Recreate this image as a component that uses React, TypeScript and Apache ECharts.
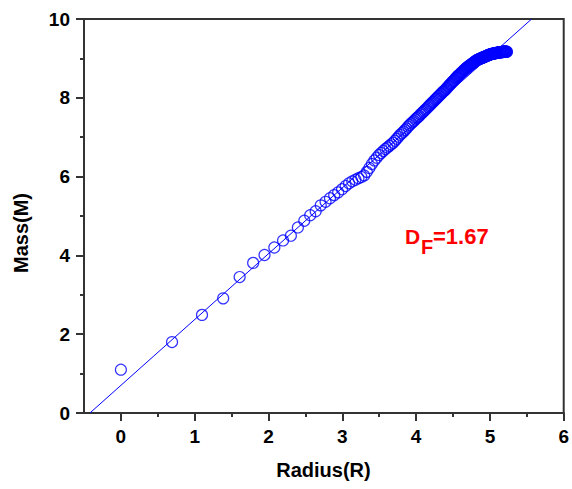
import React, { useEffect, useRef } from "react";
import * as echarts from "echarts";

// ln(radius) values
const radius: number[] = [
  0, 0.693, 1.099, 1.386, 1.609, 1.792, 1.946, 2.079, 2.197, 2.303,
  2.398, 2.485, 2.565, 2.639, 2.708, 2.773, 2.833, 2.890, 2.944, 2.996,
  3.045, 3.091, 3.135, 3.178, 3.219, 3.258, 3.296, 3.332, 3.367, 3.401,
  3.434, 3.466, 3.497, 3.526, 3.555, 3.584, 3.611, 3.638, 3.664, 3.689,
  3.714, 3.738, 3.761, 3.784, 3.807, 3.829, 3.850, 3.871, 3.892, 3.912,
  3.932, 3.951, 3.970, 3.989, 4.007, 4.025, 4.043, 4.060, 4.078, 4.094,
  4.111, 4.127, 4.143, 4.159, 4.174, 4.190, 4.205, 4.220, 4.234, 4.248,
  4.263, 4.277, 4.290, 4.304, 4.317, 4.331, 4.344, 4.357, 4.369, 4.382,
  4.394, 4.407, 4.419, 4.431, 4.443, 4.454, 4.466, 4.477, 4.489, 4.500,
  4.511, 4.522, 4.533, 4.543, 4.554, 4.564, 4.575, 4.585, 4.595, 4.605,
  4.615, 4.625, 4.635, 4.644, 4.654, 4.663, 4.673, 4.682, 4.691, 4.700,
  4.710, 4.718, 4.727, 4.736, 4.745, 4.754, 4.762, 4.771, 4.779, 4.787,
  4.796, 4.804, 4.812, 4.820, 4.828, 4.836, 4.844, 4.852, 4.860, 4.868,
  4.875, 4.883, 4.890, 4.898, 4.905, 4.913, 4.920, 4.927, 4.934, 4.942,
  4.949, 4.956, 4.963, 4.970, 4.977, 4.984, 4.990, 4.997, 5.004, 5.011,
  5.017, 5.024, 5.030, 5.037, 5.043, 5.050, 5.056, 5.063, 5.069, 5.075,
  5.081, 5.088, 5.094, 5.100, 5.106, 5.112, 5.118, 5.124, 5.130, 5.136,
  5.142, 5.147, 5.153, 5.159, 5.165, 5.170, 5.176, 5.182, 5.187, 5.193,
  5.198, 5.204, 5.209, 5.215, 5.220, 5.226, 5.231,
];

// ln(mass) values
const mass: number[] = [
  1.10, 1.80, 2.49, 2.91, 3.45, 3.81, 4.01, 4.20, 4.38, 4.50,
  4.71, 4.88, 5.02, 5.12, 5.27, 5.36, 5.45, 5.53, 5.60, 5.68,
  5.76, 5.83, 5.88, 5.92, 5.96, 5.99, 6.03, 6.12, 6.22, 6.32,
  6.41, 6.48, 6.55, 6.60, 6.65, 6.70, 6.74, 6.78, 6.82, 6.86,
  6.91, 6.96, 7.01, 7.06, 7.10, 7.14, 7.18, 7.22, 7.27, 7.31,
  7.35, 7.38, 7.41, 7.45, 7.48, 7.51, 7.54, 7.58, 7.61, 7.64,
  7.67, 7.70, 7.73, 7.76, 7.79, 7.82, 7.85, 7.88, 7.90, 7.93,
  7.96, 7.98, 8.01, 8.04, 8.06, 8.09, 8.11, 8.14, 8.16, 8.18,
  8.20, 8.23, 8.25, 8.28, 8.30, 8.33, 8.35, 8.37, 8.40, 8.42,
  8.44, 8.46, 8.49, 8.51, 8.53, 8.55, 8.57, 8.58, 8.60, 8.62,
  8.64, 8.65, 8.67, 8.69, 8.71, 8.72, 8.74, 8.76, 8.77, 8.78,
  8.80, 8.81, 8.82, 8.83, 8.85, 8.86, 8.87, 8.88, 8.89, 8.91,
  8.92, 8.93, 8.94, 8.95, 8.96, 8.97, 8.97, 8.98, 8.99, 8.99,
  9.00, 9.01, 9.01, 9.02, 9.02, 9.03, 9.04, 9.04, 9.05, 9.05,
  9.06, 9.06, 9.07, 9.08, 9.08, 9.09, 9.09, 9.10, 9.10, 9.11,
  9.11, 9.11, 9.12, 9.12, 9.12, 9.12, 9.13, 9.13, 9.13, 9.13,
  9.14, 9.14, 9.14, 9.14, 9.15, 9.15, 9.15, 9.15, 9.15, 9.16,
  9.16, 9.16, 9.16, 9.16, 9.16, 9.17, 9.17, 9.17, 9.17, 9.17,
  9.17, 9.17, 9.17, 9.17, 9.17, 9.17, 9.17,
];

// fitted line end points (x, y)
const fitX: number[] = [-0.42, 5.565];
const fitY: number[] = [0, 10];

const xTicks: number[] = [0, 1, 2, 3, 4, 5, 6];
const yTicks: number[] = [0, 2, 4, 6, 8, 10];

const FONT = 'Arial, "Liberation Sans", sans-serif';
const BLUE = "#0000ff";
const AXIS = "#333333";

export default function App() {
  const ref = useRef<HTMLDivElement>(null);
  useEffect(() => {
    if (!ref.current) return;
    const chart = echarts.init(ref.current, undefined, { renderer: "svg" });
    const points = radius.map((r, i) => [r, mass[i]]);
    const fit = fitX.map((x, i) => [x, fitY[i]]);
    const axisLabel = {
      color: "#000",
      fontFamily: FONT,
      fontWeight: "bold" as const,
      fontSize: 19,
    };
    chart.setOption({
      animation: false,
      backgroundColor: "#fff",
      grid: {
        left: 84,
        top: 19,
        width: 480,
        height: 394,
        show: true,
        borderColor: AXIS,
        borderWidth: 2,
        backgroundColor: "transparent",
      },
      xAxis: {
        type: "value",
        min: -0.5,
        max: 6,
        minInterval: 1,
        maxInterval: 1,
        splitLine: { show: false },
        axisLine: { show: true, onZero: false, lineStyle: { color: AXIS, width: 2 } },
        axisTick: {
          show: true,
          inside: false,
          length: 8,
          customValues: xTicks,
          lineStyle: { color: AXIS, width: 2 },
        },
        minorTick: { show: true, splitNumber: 2, length: 4, lineStyle: { color: AXIS, width: 2 } },
        axisLabel: { ...axisLabel, margin: 14, customValues: xTicks },
      },
      yAxis: {
        type: "value",
        min: 0,
        max: 10,
        interval: 2,
        splitLine: { show: false },
        axisLine: { show: true, onZero: false, lineStyle: { color: AXIS, width: 2 } },
        axisTick: { show: true, inside: false, length: 8, lineStyle: { color: AXIS, width: 2 } },
        minorTick: { show: true, splitNumber: 2, length: 4, lineStyle: { color: AXIS, width: 2 } },
        axisLabel: {
          ...axisLabel,
          margin: 14,
          formatter: (v: number) => (yTicks.includes(v) ? String(v) : ""),
        },
      },
      series: [
        {
          type: "line",
          data: fit,
          symbol: "none",
          lineStyle: { color: BLUE, width: 1 },
          z: 1,
          silent: true,
        },
        {
          type: "scatter",
          data: points,
          symbol: "circle",
          symbolSize: 11,
          itemStyle: { color: "rgba(0,0,0,0)", borderColor: BLUE, borderWidth: 1.2 },
          z: 2,
          silent: true,
        },
      ],
      graphic: [
        {
          type: "text",
          x: 323.5,
          y: 470,
          style: {
            text: "Radius(R)",
            fill: "#000",
            font: `bold 20px ${FONT}`,
            align: "center",
            verticalAlign: "middle",
          },
        },
        {
          type: "text",
          x: 21,
          y: 233,
          rotation: Math.PI / 2,
          style: {
            text: "Mass(M)",
            fill: "#000",
            font: `bold 20px ${FONT}`,
            align: "center",
            verticalAlign: "middle",
          },
        },
        {
          type: "text",
          x: 405,
          y: 236.5,
          style: {
            text: "D",
            fill: "#ff0000",
            font: `bold 21px ${FONT}`,
            align: "left",
            verticalAlign: "middle",
          },
        },
        {
          type: "text",
          x: 421,
          y: 247,
          style: {
            text: "F",
            fill: "#ff0000",
            font: `bold 20px ${FONT}`,
            align: "left",
            verticalAlign: "middle",
          },
        },
        {
          type: "text",
          x: 433,
          y: 236.5,
          style: {
            text: "=1.67",
            fill: "#ff0000",
            font: `bold 22px ${FONT}`,
            align: "left",
            verticalAlign: "middle",
          },
        },
      ],
    });
    return () => chart.dispose();
  }, []);
  return <div ref={ref} style={{ width: 572, height: 489, position: "absolute", left: 0, top: 0 }} />;
}
